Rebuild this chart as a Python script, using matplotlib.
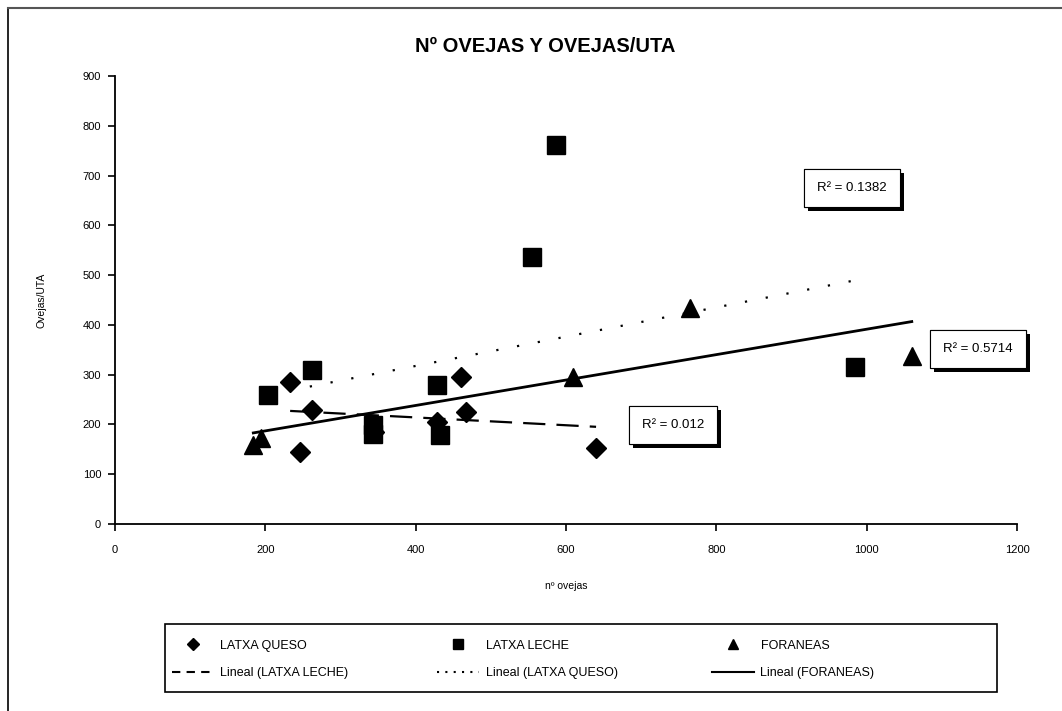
import numpy as np
import matplotlib
matplotlib.use("Agg")
import matplotlib.pyplot as plt
from matplotlib.lines import Line2D
from matplotlib.patches import Rectangle
import matplotlib.patheffects as pe

plt.rcParams['font.family'] = ['Liberation Sans', 'DejaVu Sans']

# ---- data ----
queso_x = [233, 262, 246, 345, 428, 460, 467, 640]
queso_y = [285, 229, 145, 185, 205, 295, 225, 153]

leche_x = [204, 262, 343, 343, 428, 432, 555, 587, 984]
leche_y = [259, 309, 199, 180, 279, 178, 536, 761, 315]

foraneas_x = [184, 194, 609, 765, 1060]
foraneas_y = [159, 173, 295, 434, 337]

x_ticks = [0, 200, 400, 600, 800, 1000, 1200]
y_ticks = [0, 100, 200, 300, 400, 500, 600, 700, 800, 900]

r2_labels = ["R² = 0.1382", "R² = 0.5714", "R² = 0.012"]

W, H = 1062, 711
fig = plt.figure(figsize=(W / 100, H / 100), dpi=100)
fig.patch.set_facecolor('white')

# outer chart frame (top and left visible)
fig.add_artist(Line2D([8 / W, 8 / W], [1 - 8 / H, 0], transform=fig.transFigure, color='black', lw=1.2))
fig.add_artist(Line2D([8 / W, 1], [1 - 8 / H, 1 - 8 / H], transform=fig.transFigure, color='#555555', lw=1.5))

ax = fig.add_axes([115 / W, 1 - 524 / H, (1017 - 115) / W, (524 - 76) / H])
ax.set_xlim(0, 1200)
ax.set_ylim(0, 900)
ax.set_xticks(x_ticks)
ax.set_yticks(y_ticks)
for s in ['top', 'right']:
    ax.spines[s].set_visible(False)
for s in ['left', 'bottom']:
    ax.spines[s].set_linewidth(1.3)
ax.tick_params(direction='out', length=5, width=1.2, labelsize=8)
ax.tick_params(axis='x', pad=10)
ax.tick_params(axis='y', pad=5)
ax.set_xlabel('nº ovejas', fontsize=7.5, labelpad=19)
ax.set_ylabel('Ovejas/UTA', fontsize=7.5, labelpad=26)

fig.text(545 / W, 1 - 47 / H, 'Nº OVEJAS Y OVEJAS/UTA', fontsize=14.5, fontweight='bold',
         ha='center', va='center')

# points
ax.plot(queso_x, queso_y, linestyle='none', marker='D', ms=10.5, color='black', zorder=3)
ax.plot(leche_x, leche_y, linestyle='none', marker='s', ms=12.5, color='black', zorder=3)
ax.plot(foraneas_x, foraneas_y, linestyle='none', marker='^', ms=12.5, color='black', zorder=3)

# trend lines (least squares, drawn over each series' x range)
def trend(xs, ys):
    xs = np.asarray(xs, float)
    ys = np.asarray(ys, float)
    m, b = np.polyfit(xs, ys, 1)
    xx = np.array([xs.min(), xs.max()])
    return xx, m * xx + b

tx, ty = trend(queso_x, queso_y)
ax.plot(tx, ty, color='black', lw=1.6, linestyle=(0, (10, 5)), zorder=2)
tx, ty = trend(leche_x, leche_y)
ax.plot(tx, ty, color='black', lw=1.6, linestyle=(0, (1, 8.5)), zorder=2)
tx, ty = trend(foraneas_x, foraneas_y)
ax.plot(tx, ty, color='black', lw=2, linestyle='-', zorder=2)

# R² labels with shadow boxes
def px2data(px, py):
    return (px - 115) / (1017 - 115) * 1200, (524 - py) / (524 - 76) * 900

def r2box(px, py, s):
    x, y = px2data(px, py)
    t = ax.text(x, y, s, fontsize=9.5, family='Liberation Sans', ha='center', va='center',
                zorder=5,
                bbox=dict(boxstyle='square,pad=1.0', fc='white', ec='black', lw=0.8))
    t.get_bbox_patch().set_path_effects([
        pe.withSimplePatchShadow(offset=(3, -3), shadow_rgbFace='black', alpha=1.0),
        pe.Normal()])

r2box(852, 188, r2_labels[0])
r2box(978, 349, r2_labels[1])
r2box(673, 425, r2_labels[2])

# legend: box + three columns (Excel style equal-width columns)
lx0, lx1, ly0, ly1 = 165, 997, 624, 692
fig.add_artist(Rectangle((lx0 / W, 1 - ly1 / H), (lx1 - lx0) / W, (ly1 - ly0) / H,
                         transform=fig.transFigure, fill=False, ec='black', lw=1.2))
col_handles = [
    [Line2D([], [], linestyle='none', marker='D', ms=6, color='black'),
     Line2D([], [], color='black', lw=1.5, linestyle=(0, (4, 3)))],
    [Line2D([], [], linestyle='none', marker='s', ms=7, color='black'),
     Line2D([], [], color='black', lw=1.5, linestyle=(0, (1, 3)))],
    [Line2D([], [], linestyle='none', marker='^', ms=7, color='black'),
     Line2D([], [], color='black', lw=1.5, linestyle='-')],
]
col_labels = [
    ['LATXA QUESO', 'Lineal (LATXA LECHE)'],
    ['LATXA LECHE', 'Lineal (LATXA QUESO)'],
    ['FORANEAS', 'Lineal (FORANEAS)'],
]
col_x = [168, 433, 708]
for i in range(3):
    fig.legend(col_handles[i], col_labels[i], loc='upper left',
               bbox_to_anchor=(col_x[i] / W, 1 - 636 / H),
               frameon=False, fontsize=9, handlelength=3.4, handletextpad=0.5,
               labelspacing=1.25, borderpad=0.3, borderaxespad=0)

fig.savefig('out.png', dpi=100, facecolor='white')
